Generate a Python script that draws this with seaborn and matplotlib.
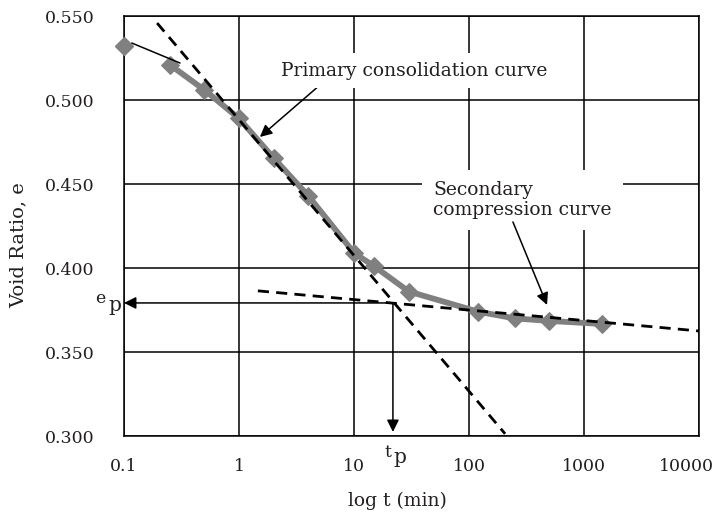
import numpy as np
import pandas as pd
import matplotlib
matplotlib.use("Agg")
import matplotlib.pyplot as plt
import matplotlib.transforms as mtransforms
import seaborn as sns
from matplotlib.ticker import FixedLocator, FixedFormatter, NullLocator

# consolidation test readings
time_min = [0.1, 0.25, 0.5, 1, 2, 4, 10, 15, 30, 120, 250, 500, 1440]
void_ratio = [0.532, 0.521, 0.506, 0.489, 0.4655, 0.443, 0.409, 0.401, 0.386, 0.374, 0.370, 0.3685, 0.3667]

# construction lines (end points)
primary_tangent_t = [0.194, 206]
primary_tangent_e = [0.5458, 0.3013]
secondary_tangent_t = [1.46, 10000]
secondary_tangent_e = [0.3864, 0.3625]
t_p = 21.8
e_p = 0.3792

x_ticks = [0.1, 1, 10, 100, 1000, 10000]
x_labels = ["0.1", "1", "10", "100", "1000", "10000"]
y_ticks = [0.300, 0.350, 0.400, 0.450, 0.500, 0.550]

df = pd.DataFrame({"t": time_min, "e": void_ratio})

sns.set_style("white")
plt.rcParams["font.family"] = ["DejaVu Serif"]
plt.rcParams["font.size"] = 13
ink = "#231f20"

fig = plt.figure(figsize=(7.21, 5.21), dpi=100)
ax = fig.add_axes([124 / 721, 85 / 521, 575 / 721, 420 / 521])

# thick gray curve (from second reading on) plus the first reading marker
sns.lineplot(data=df.iloc[1:], x="t", y="e", ax=ax, color="#808080", lw=4.2,
             marker="D", markersize=9, markeredgecolor="#808080", zorder=4)
ax.plot(time_min[:1], void_ratio[:1], marker="D", markersize=9, color="#808080",
        clip_on=False, zorder=4)
ax.plot([0.117, 0.307], [0.5339, 0.522], color="black", lw=1.1, zorder=5)

# tangent lines
ax.plot(primary_tangent_t, primary_tangent_e, color="black", lw=2, ls=(0, (4, 2.6)), zorder=5)
ax.plot(secondary_tangent_t, secondary_tangent_e, color="black", lw=2, ls=(0, (4, 2.6)), zorder=5)

ax.set_xscale("log")
ax.set_xlim(0.1, 10000)
ax.set_ylim(0.300, 0.550)
ax.xaxis.set_major_locator(FixedLocator(x_ticks))
ax.xaxis.set_major_formatter(FixedFormatter(x_labels))
ax.xaxis.set_minor_locator(NullLocator())
ax.set_yticks(y_ticks)
ax.set_yticklabels([f"{v:.3f}" for v in y_ticks])
ax.grid(True, color="black", lw=1.1)
for s in ax.spines.values():
    s.set_color("black")
    s.set_linewidth(1.1)
ax.tick_params(axis="both", direction="out", length=6, width=1.1, color="black",
               labelsize=12.5, labelcolor=ink)
ax.tick_params(axis="x", pad=10)
ax.tick_params(axis="y", pad=15)

# last x label sits a little to the left so it stays inside the figure
last = ax.get_xticklabels()[-1]
last.set_transform(last.get_transform() + mtransforms.ScaledTranslation(-9 / 72, 0, fig.dpi_scale_trans))

ax.set_xlabel("log t (min)", fontsize=13.5, color=ink)
ax.set_ylabel("Void Ratio, e", fontsize=14, color=ink)
ax.xaxis.set_label_coords(0.475, -0.132)
ax.yaxis.set_label_coords(-0.168, 0.455)

# e_p and t_p arrows
arrow = dict(arrowstyle="-|>", color="black", lw=1.1, mutation_scale=18, shrinkA=0, shrinkB=0)
ax.annotate("", xy=(0.1, e_p), xytext=(t_p, e_p), arrowprops=arrow, zorder=6)
ax.annotate("", xy=(t_p, 0.3024), xytext=(t_p, e_p), arrowprops=arrow, zorder=6)
ax.text(0.0695, 0.3792, "e", fontsize=12.5, ha="right", va="baseline", color=ink, clip_on=False)
ax.text(0.0728, 0.3745, "p", fontsize=14.5, ha="left", va="baseline", color=ink, clip_on=False)
ax.text(21.3, 0.2876, "t", fontsize=12.5, ha="right", va="baseline", color=ink, clip_on=False)
ax.text(21.9, 0.2840, "p", fontsize=14.5, ha="left", va="baseline", color=ink, clip_on=False)

# curve labels
ax.annotate("Primary consolidation curve", xy=(1.52, 0.478), xytext=(33.3, 0.5175),
            fontsize=13.5, ha="center", va="center", color=ink, zorder=7,
            bbox=dict(facecolor="white", edgecolor="none", pad=6),
            arrowprops=dict(arrowstyle="-|>", color="black", lw=1.1, mutation_scale=18,
                            shrinkA=0, shrinkB=0, relpos=(0.17, 0.0)))
ax.text(48.6, 0.4405, "Secondary\ncompression curve", fontsize=13.5, ha="left", va="center",
        linespacing=1.15, color=ink, zorder=7,
        bbox=dict(facecolor="white", edgecolor="none", pad=8))
ax.annotate("", xy=(477, 0.378), xytext=(241, 0.4274), zorder=8,
            arrowprops=dict(arrowstyle="-|>", color="black", lw=1.1, mutation_scale=18,
                            shrinkA=0, shrinkB=0))

fig.savefig("out.png", dpi=100)
